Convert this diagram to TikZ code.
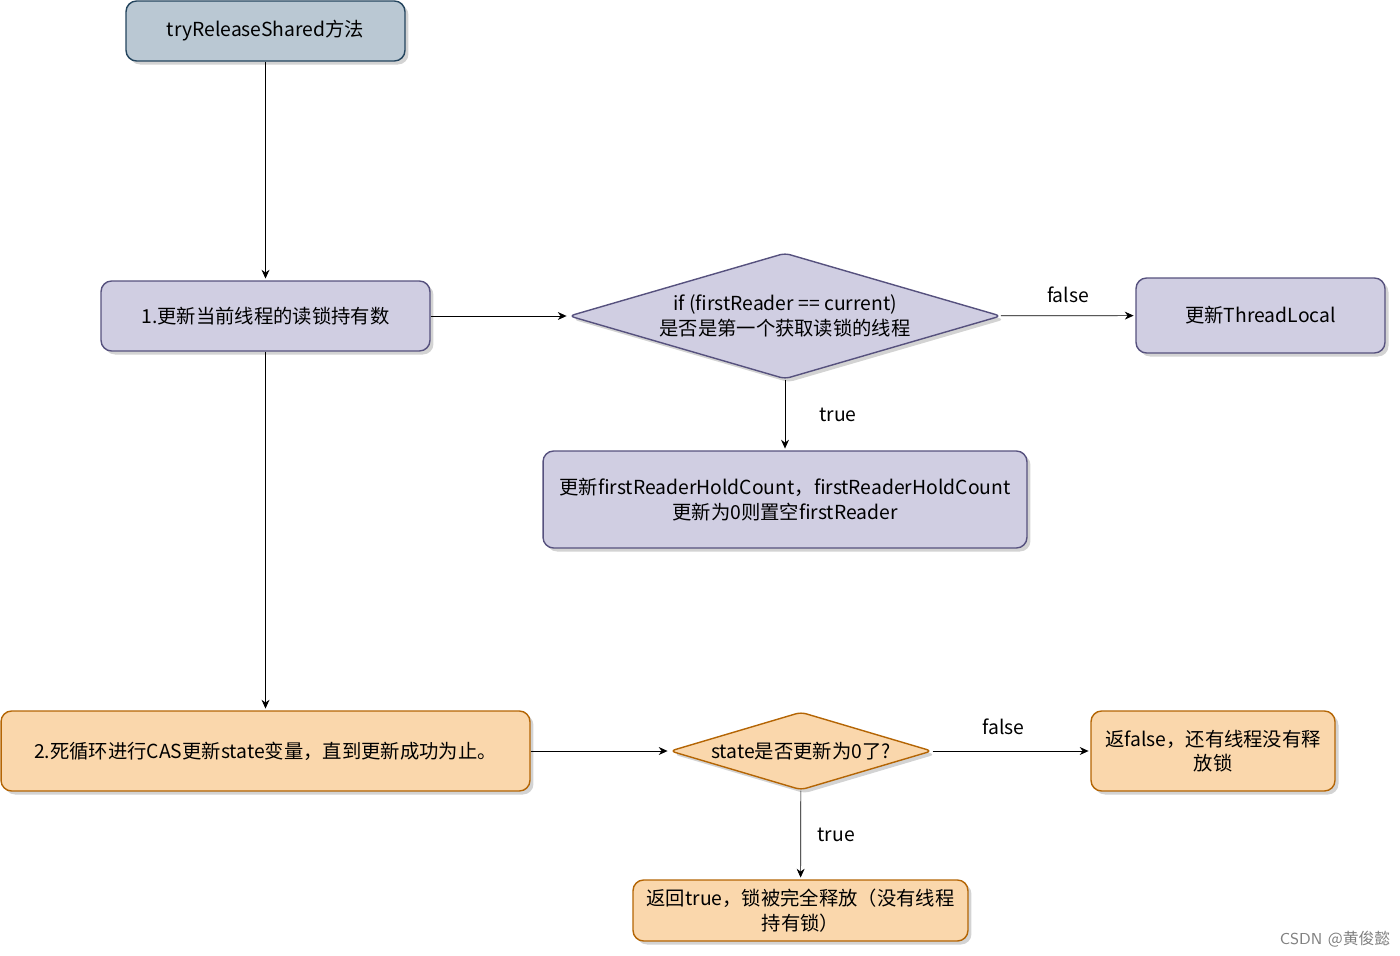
\documentclass[tikz,border=0pt]{standalone}
\usepackage{fontspec}
\newfontfamily\cjk{Noto Sans CJK SC}
\usetikzlibrary{arrows.meta,shapes.geometric,shadows}

\definecolor{grayfill}{HTML}{BAC8D3}
\definecolor{graydraw}{HTML}{23445D}
\definecolor{lilacfill}{HTML}{D0CEE2}
\definecolor{lilacdraw}{HTML}{56517E}
\definecolor{peachfill}{HTML}{FAD7AC}
\definecolor{peachdraw}{HTML}{B46504}

\begin{document}
\begin{tikzpicture}[x=0.02cm,y=-0.02cm,
  every node/.style={font=\cjk\fontsize{11}{14}\selectfont, align=center},
  box/.style={rectangle, rounded corners=6pt, thick, inner sep=2pt,
    drop shadow={shadow xshift=2pt, shadow yshift=-2pt, opacity=0.35}},
  choice/.style={diamond, rounded corners=3pt, thick, inner sep=0pt,
    drop shadow={shadow xshift=2pt, shadow yshift=-2pt, opacity=0.35}},
  startbox/.style={box, fill=grayfill, draw=graydraw},
  lilacbox/.style={box, fill=lilacfill, draw=lilacdraw},
  peachbox/.style={box, fill=peachfill, draw=peachdraw},
  flow/.style={-{Stealth[length=5pt,width=4.5pt]}, shorten >=1pt}]
  \useasboundingbox (0,0) rectangle (1400,956);

  % upper part
  \node[startbox, minimum width=5.58cm, minimum height=1.2cm] (start) at (265.5,31) {tryReleaseShared方法};
  \node[lilacbox, minimum width=6.58cm, minimum height=1.4cm] (count) at (265.5,316) {1.更新当前线程的读锁持有数};
  \node[choice, fill=lilacfill, draw=lilacdraw, aspect=3.4, minimum width=8.64cm, minimum height=2.52cm] (first) at (785,316)
    {if (firstReader == current)\\是否是第一个获取读锁的线程};
  \node[lilacbox, minimum width=4.98cm, minimum height=1.5cm] (local) at (1260.5,315.5) {更新ThreadLocal};
  \node[lilacbox, minimum width=9.68cm, minimum height=1.94cm] (hold) at (785,499.5)
    {更新firstReaderHoldCount，firstReaderHoldCount\\更新为0则置空firstReader};

  % lower part
  \node[peachbox, minimum width=10.58cm, minimum height=1.6cm] (loop) at (265.5,751) {2.死循环进行CAS更新state变量，直到更新成功为止。};
  \node[choice, fill=peachfill, draw=peachdraw, aspect=3.36, minimum width=5.24cm, minimum height=1.56cm] (zero) at (801,751)
    {state是否更新为0了?};
  \node[peachbox, minimum width=4.88cm, minimum height=1.6cm] (notfree) at (1213,751)
    {返false，还有线程没有释\\放锁};
  \node[peachbox, minimum width=6.7cm, minimum height=1.22cm] (free) at (800.5,910.5)
    {返回true，锁被完全释放（没有线程\\持有锁）};

  \draw[flow] (start) -- (count);
  \draw[flow] (count) -- (first);
  \draw[flow] (first) -- node[above=4pt] {false} (local);
  \draw[flow] (first) -- node[right=16pt] {true} (hold);
  \draw[flow] (count) -- (loop);
  \draw[flow] (loop) -- (zero);
  \draw[flow] (zero) -- node[above=6pt, pos=0.45] {false} (notfree);
  \draw[flow] (zero) -- node[right=6pt] {true} (free);

  \node[text=gray, font=\sffamily\fontsize{9}{11}\selectfont] (mark) at (1335,939) {CSDN {\cjk @黄俊懿}};
\end{tikzpicture}
\end{document}
